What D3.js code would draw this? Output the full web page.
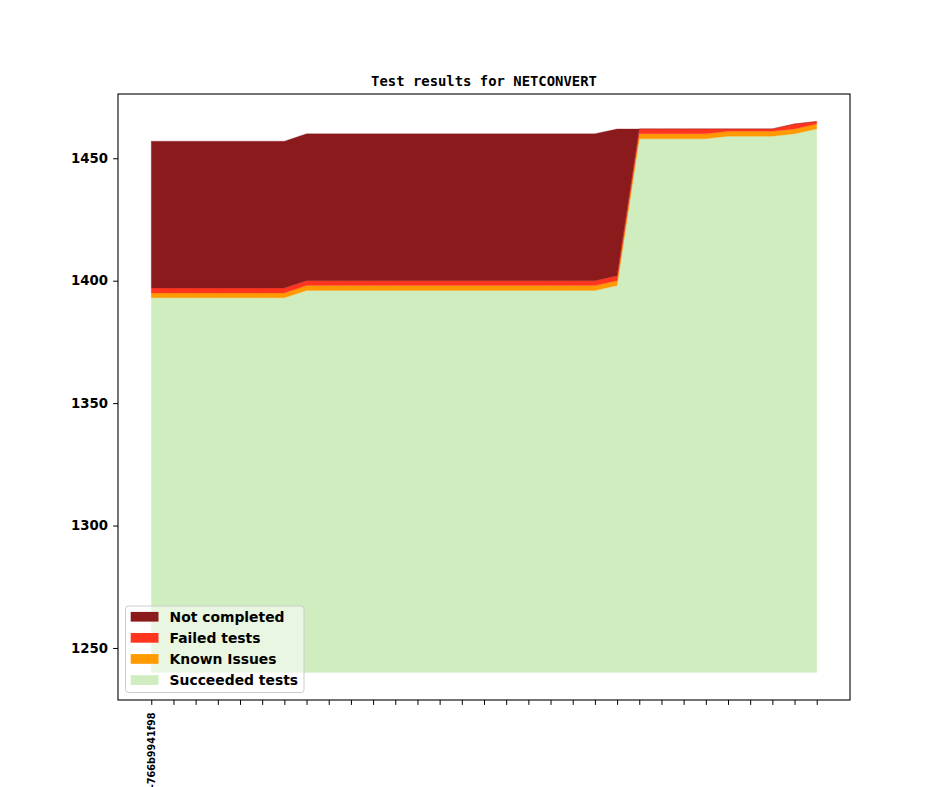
<!DOCTYPE html>
<html>
<head>
<meta charset="utf-8">
<script src="https://cdn.jsdelivr.net/npm/d3@7"></script>
<style>
  body { margin: 0; background: #fff; }
  svg { display: block; }
  .tick text { font-family: 'DejaVu Sans', sans-serif; font-weight: bold; }
</style>
</head>
<body>
<div id="wrapper"></div>
<script>
// data: one entry per commit (31 builds)
const commits = [
  '-766b9941f98', '', '', '', '', '', '', '', '', '', '',
  '', '', '', '', '', '', '', '', '', '', '',
  '', '', '', '', '', '', '', '', ''
];
const succeeded = [
  1393, 1393, 1393, 1393, 1393, 1393, 1393,
  1396, 1396, 1396, 1396, 1396, 1396, 1396, 1396, 1396, 1396, 1396, 1396, 1396, 1396,
  1398,
  1458, 1458, 1458, 1458,
  1459, 1459, 1459,
  1460, 1462
];
const knownIssues = [
  2, 2, 2, 2, 2, 2, 2,
  2, 2, 2, 2, 2, 2, 2, 2, 2, 2, 2, 2, 2, 2,
  2,
  2, 2, 2, 2,
  2, 2, 2,
  2, 2
];
const failed = [
  2, 2, 2, 2, 2, 2, 2,
  2, 2, 2, 2, 2, 2, 2, 2, 2, 2, 2, 2, 2, 2,
  2,
  2, 2, 2, 2,
  1, 1, 1,
  2, 1
];
const notCompleted = [
  60, 60, 60, 60, 60, 60, 60,
  60, 60, 60, 60, 60, 60, 60, 60, 60, 60, 60, 60, 60, 60,
  60,
  0, 0, 0, 0,
  0, 0, 0,
  0, 0
];
const baseline = 1240;
const yTicks = [1250, 1300, 1350, 1400, 1450];

const seriesNames = ['Succeeded tests', 'Known Issues', 'Failed tests', 'Not completed'];
const seriesColors = ['#cfedbf', '#ff9a00', '#ff3520', '#8b1a1c'];

function drawChart() {
  const dimensions = {
    width: 944,
    height: 787,
    margin: { top: 94, right: 94, bottom: 87, left: 118 }
  };
  dimensions.boundedWidth = dimensions.width - dimensions.margin.left - dimensions.margin.right;
  dimensions.boundedHeight = dimensions.height - dimensions.margin.top - dimensions.margin.bottom;

  const table = commits.map((c, i) => ({
    index: i,
    'Succeeded tests': succeeded[i],
    'Known Issues': knownIssues[i],
    'Failed tests': failed[i],
    'Not completed': notCompleted[i]
  }));

  const stacked = d3.stack().keys(seriesNames)(table);

  const wrapper = d3.select('#wrapper')
    .append('svg')
    .attr('width', dimensions.width)
    .attr('height', dimensions.height);

  const bounds = wrapper.append('g')
    .attr('transform', `translate(${dimensions.margin.left},${dimensions.margin.top})`);

  // scales (matplotlib-style 5% margins)
  const n = commits.length;
  const xPad = (n - 1) * 0.05;
  const xScale = d3.scaleLinear()
    .domain([-xPad, n - 1 + xPad])
    .range([0, dimensions.boundedWidth]);

  const yMax = d3.max(stacked[stacked.length - 1], d => d[1]);
  const yPad = (yMax - baseline) * 0.05;
  const yScale = d3.scaleLinear()
    .domain([baseline - yPad, yMax + yPad])
    .range([dimensions.boundedHeight, 0]);

  // areas
  const areaGenerator = d3.area()
    .x(d => xScale(d.data.index))
    .y0(d => yScale(Math.max(d[0], baseline)))
    .y1(d => yScale(d[1]));

  bounds.selectAll('path.layer')
    .data(stacked)
    .join('path')
    .attr('class', 'layer')
    .attr('fill', (d, i) => seriesColors[i])
    .attr('stroke', (d, i) => seriesColors[i])
    .attr('stroke-width', 0.3)
    .attr('d', areaGenerator);

  // axes
  const xAxisGenerator = d3.axisBottom(xScale)
    .tickValues(d3.range(n))
    .tickSize(4.9)
    .tickFormat(i => commits[i]);

  const xAxis = bounds.append('g')
    .attr('transform', `translate(0,${dimensions.boundedHeight})`)
    .call(xAxisGenerator);
  xAxis.select('.domain').remove();
  xAxis.selectAll('.tick line').attr('stroke', '#000').attr('stroke-width', 1);
  xAxis.selectAll('.tick text')
    .attr('font-size', 9.7)
    .attr('fill', '#000')
    .attr('text-anchor', 'end')
    .attr('dy', '0.35em')
    .attr('transform', 'translate(0,12.5) rotate(-90)')
    .attr('x', 0)
    .attr('y', 0);

  const yAxisGenerator = d3.axisLeft(yScale)
    .tickValues(yTicks)
    .tickSize(4.9)
    .tickPadding(5)
    .tickFormat(d3.format('d'));

  const yAxis = bounds.append('g').call(yAxisGenerator);
  yAxis.select('.domain').remove();
  yAxis.selectAll('.tick line').attr('stroke', '#000').attr('stroke-width', 1);
  yAxis.selectAll('.tick text').attr('font-size', 13.3).attr('fill', '#000');

  // frame
  bounds.append('rect')
    .attr('width', dimensions.boundedWidth)
    .attr('height', dimensions.boundedHeight)
    .attr('fill', 'none')
    .attr('stroke', '#000')
    .attr('stroke-width', 1.1);

  // title
  wrapper.append('text')
    .attr('x', dimensions.margin.left + dimensions.boundedWidth / 2)
    .attr('y', 86.3)
    .attr('text-anchor', 'middle')
    .attr('font-family', "'DejaVu Sans Mono', monospace")
    .attr('font-weight', 'bold')
    .attr('font-size', 13.9)
    .text('Test results for NETCONVERT');

  // legend (reverse order, lower left)
  const legend = wrapper.append('g')
    .attr('transform', 'translate(125.5,606)');

  legend.append('rect')
    .attr('width', 178.5)
    .attr('height', 86.5)
    .attr('rx', 3)
    .attr('fill', 'rgba(255,255,255,0.55)')
    .attr('stroke', '#cccccc')
    .attr('stroke-width', 1);

  const legendItems = seriesNames.map((name, i) => ({ name, color: seriesColors[i] })).reverse();

  const rows = legend.selectAll('g.item')
    .data(legendItems)
    .join('g')
    .attr('class', 'item')
    .attr('transform', (d, i) => `translate(0,${10.7 + i * 21.1})`);

  rows.append('rect')
    .attr('x', 5.2)
    .attr('y', -4.8)
    .attr('width', 27.8)
    .attr('height', 9.7)
    .attr('fill', d => d.color);

  rows.append('text')
    .attr('x', 44)
    .attr('dy', '0.36em')
    .attr('font-family', "'DejaVu Sans', sans-serif")
    .attr('font-weight', 'bold')
    .attr('font-size', 13.9)
    .text(d => d.name);
}
drawChart();
</script>
</body>
</html>
